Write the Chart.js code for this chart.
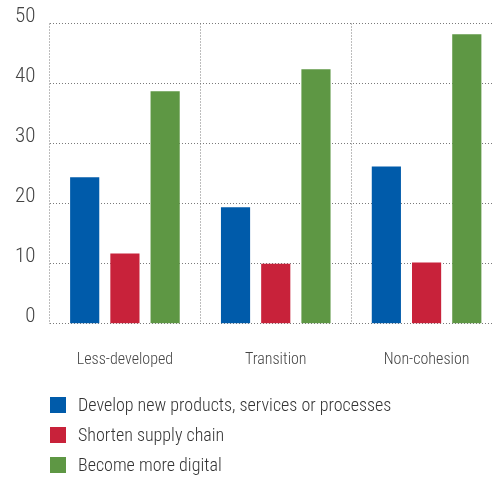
<!DOCTYPE html>
<html>
<head>
<meta charset="utf-8">
<script src="https://cdn.jsdelivr.net/npm/chart.js@4"></script>
<style>
  html, body { margin: 0; padding: 0; background: #fff; overflow: hidden; width: 494px; height: 479px; }
  #wrap { position: absolute; left: 0; top: 0; width: 502px; height: 397px; }
  #legend { position: absolute; left: 50px; top: 396px; font-family: "Roboto Condensed", sans-serif; font-weight: 300; font-size: 18px; color: #333; }
  #legend div { height: 30px; display: flex; align-items: flex-start; white-space: nowrap; }
  #legend span.box { display: inline-block; width: 16px; height: 16px; margin-right: 12px; margin-top: 1px; }
  #legend span.txt { line-height: 18px; }
</style>
</head>
<body>
<div id="wrap"><canvas id="chart" width="502" height="397"></canvas></div>
<div id="legend"></div>
<script>
/* ========= DATA ========= */
const categories = ["Less-developed", "Transition", "Non-cohesion"];
const seriesNames = ["Develop new products, services or processes", "Shorten supply chain", "Become more digital"];
const developValues = [24.4, 19.4, 26.2];
const shortenValues = [11.7, 10.0, 10.2];
const digitalValues = [38.7, 42.4, 48.2];
const colors = ["#005BAA", "#C8223A", "#5E9744"];

const FONT = "'Roboto Condensed', sans-serif";
const gridLine = { color: "#7a7a7a", lineWidth: 1, drawTicks: false };

/* ========= CHART ========= */
new Chart(document.getElementById("chart"), {
  type: "bar",
  data: {
    labels: categories,
    datasets: [developValues, shortenValues, digitalValues].map((d, i) => ({
      label: seriesNames[i],
      data: d,
      backgroundColor: colors[i],
      categoryPercentage: 0.8,
      barPercentage: 0.725
    }))
  },
  options: {
    responsive: false,
    animation: false,
    layout: { padding: { top: 23.5, left: 0, right: 0, bottom: 0 } },
    plugins: { legend: { display: false }, tooltip: { enabled: false } },
    scales: {
      x: {
        border: { display: false, dash: [1, 2] },
        grid: gridLine,
        ticks: { color: "#444", font: { family: FONT, size: 16, weight: 300 }, padding: 27 }
      },
      y: {
        min: 0, max: 50,
        border: { display: false, dash: [1, 2] },
        grid: gridLine,
        ticks: { stepSize: 10, color: "#444", font: { family: FONT, size: 21, weight: 300 }, padding: 14, labelOffset: -7 },
        afterFit: s => { s.width = 49.5; s.paddingTop = 0; s.paddingBottom = 0; }
      }
    }
  }
});

/* ========= LEGEND ========= */
document.getElementById("legend").innerHTML = seriesNames
  .map((n, i) => `<div><span class="box" style="background:${colors[i]}"></span><span class="txt">${n}</span></div>`)
  .join("");
</script>
</body>
</html>
